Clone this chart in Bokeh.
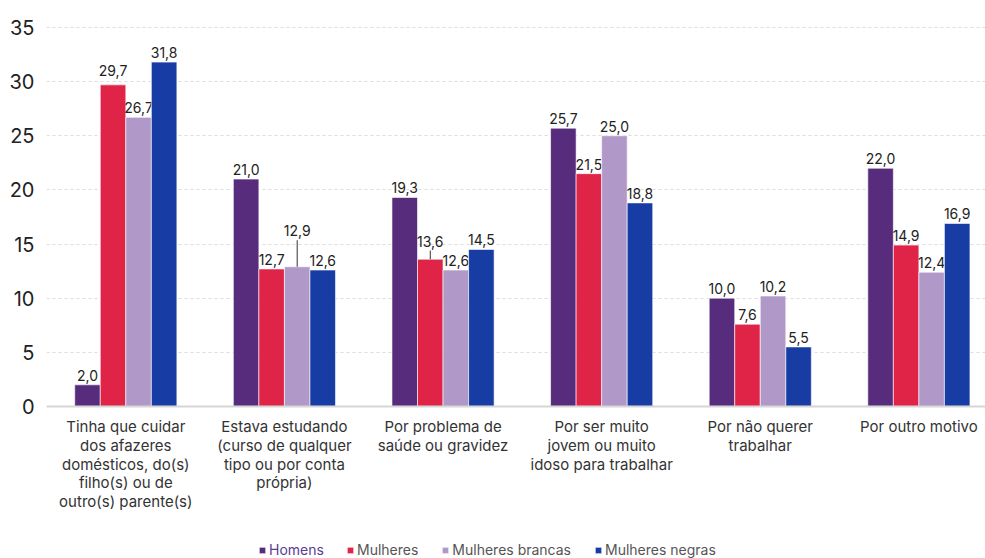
import numpy as np
from bokeh.plotting import figure
from bokeh.models import Range1d, FixedTicker, Legend, LegendItem, ColumnDataSource, Span
from bokeh.core.properties import value
from bokeh.embed import file_html
from bokeh.resources import INLINE

categories = [
    "Tinha que cuidar\ndos afazeres\ndomésticos, do(s)\nfilho(s) ou de\noutro(s) parente(s)",
    "Estava estudando\n(curso de qualquer\ntipo ou por conta\nprópria)",
    "Por problema de\nsaúde ou gravidez",
    "Por ser muito\njovem ou muito\nidoso para trabalhar",
    "Por não querer\ntrabalhar",
    "Por outro motivo",
]
series_names = ["Homens", "Mulheres", "Mulheres brancas", "Mulheres negras"]
homens = [2.0, 21.0, 19.3, 25.7, 10.0, 22.0]
mulheres = [29.7, 12.7, 13.6, 21.5, 7.6, 14.9]
mulheres_brancas = [26.7, 12.9, 12.6, 25.0, 10.2, 12.4]
mulheres_negras = [31.8, 12.6, 14.5, 18.8, 5.5, 16.9]
y_ticks = [0, 5, 10, 15, 20, 25, 30, 35]

series_values = [homens, mulheres, mulheres_brancas, mulheres_negras]
colors = ["#572c7d", "#e02447", "#b099c9", "#173da5"]
legend_text_colors = ["#5b3d8f", "#555555", "#555555", "#555555"]
# label nudges (data units) for overlapping labels: (series index, category index)
nudges = {(2, 1): 2.45, (1, 2): 0.8, (1, 0): 0.46}
leaders = {(2, 1), (1, 2)}

FONT = "Inter"
bar_w = 0.161
offsets = [-1.5 * bar_w, -0.5 * bar_w, 0.5 * bar_w, 1.5 * bar_w]

p = figure(width=985, height=558, x_range=Range1d(-0.5, 5.42), y_range=Range1d(-14.04, 37.49),
           output_backend="svg", toolbar_location=None,
           min_border_left=46, min_border_top=0, min_border_right=0, min_border_bottom=0)
p.outline_line_color = None
p.background_fill_color = "white"
p.border_fill_color = "white"
p.xaxis.visible = False

idx = np.arange(len(categories))
renderers = []
for s, (name, vals, col) in enumerate(zip(series_names, series_values, colors)):
    xs = idx + offsets[s]
    labels = [f"{v:.1f}".replace(".", ",") for v in vals]
    ly = [v + nudges.get((s, c), 0.0) for c, v in enumerate(vals)]
    src = ColumnDataSource(dict(x=xs, top=vals, lab=labels, ly=ly))
    r = p.vbar(x="x", top="top", bottom=0, width=bar_w, source=src, fill_color=col,
               line_color="white", line_alpha=0.6, line_width=1)
    renderers.append(r)
    p.text(x="x", y="ly", text="lab", source=src, text_align="center", text_baseline="bottom",
           y_offset=-4, text_font=value(FONT), text_font_size="14px", text_color="#222222")
    for (ss, cc) in leaders:
        if ss == s:
            p.segment(x0=[xs[cc]], y0=[vals[cc]], x1=[xs[cc]], y1=[vals[cc] + nudges[(ss, cc)]],
                      line_color="#333333", line_width=1)

# baseline
p.add_layout(Span(location=0, dimension="width", line_color="#d6d6d6", line_width=2))

# category labels under the baseline
p.text(x=idx, y=[0] * len(categories), text=categories, text_align="center", text_baseline="top",
       y_offset=11, text_font=value(FONT), text_font_size="15px", text_color="#333333",
       text_line_height=0.98)

p.yaxis.ticker = FixedTicker(ticks=y_ticks)
p.yaxis.major_label_text_font = FONT
p.yaxis.major_label_text_font_size = "20px"
p.yaxis.major_label_text_color = "#222222"
p.yaxis.major_label_standoff = 12
p.yaxis.major_tick_out = 0
p.yaxis.major_tick_in = 0
p.yaxis.major_tick_line_color = None
p.yaxis.minor_tick_line_color = None
p.yaxis.axis_line_color = None

p.xgrid.grid_line_color = None
p.ygrid.grid_line_color = "#dddddd"
p.ygrid.grid_line_dash = "3 3"
p.ygrid.grid_line_width = 1

def mk_legend(items, loc, color):
    return Legend(items=items, location=loc, orientation="horizontal",
                  label_text_font=FONT, label_text_font_size="14px", label_text_color=color,
                  glyph_width=8, glyph_height=8, label_standoff=3, spacing=23,
                  padding=0, margin=0, border_line_color=None, background_fill_alpha=0,
                  label_height=14)

leg1 = mk_legend([LegendItem(label=series_names[0], renderers=[renderers[0]])], (212, 0),
                 legend_text_colors[0])
leg2 = mk_legend([LegendItem(label=series_names[i], renderers=[renderers[i]]) for i in range(1, 4)],
                 (300, 0), legend_text_colors[1])
p.add_layout(leg1, "center")
p.add_layout(leg2, "center")

open("out.html", "w").write(file_html(p, INLINE))
